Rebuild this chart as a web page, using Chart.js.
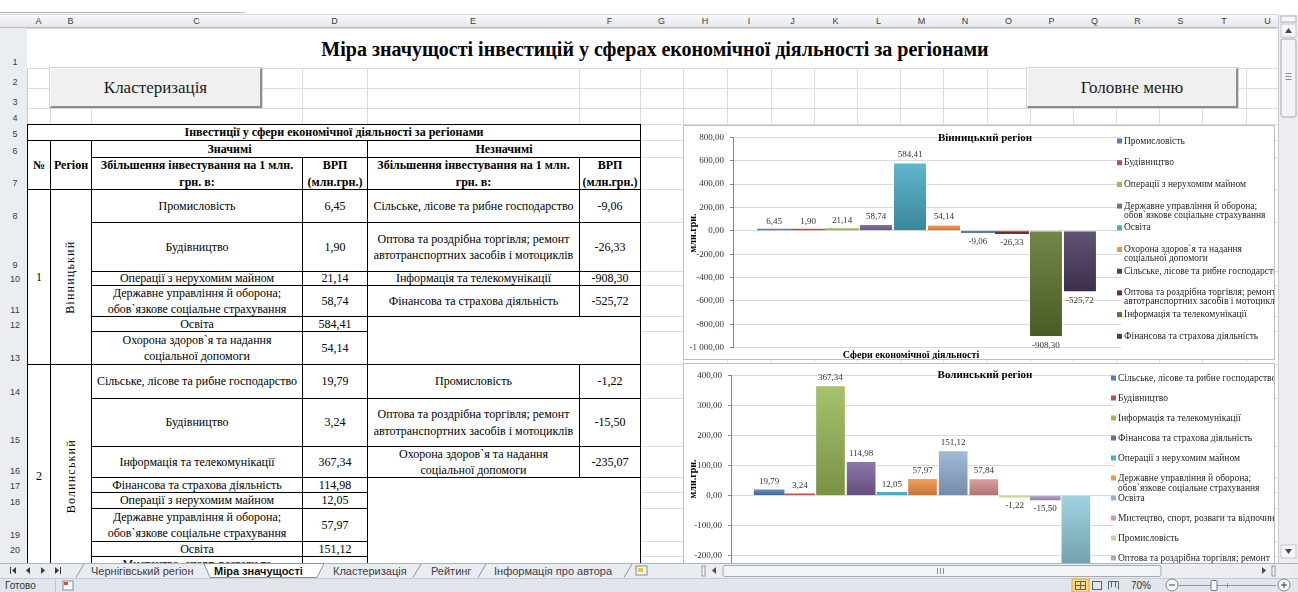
<!DOCTYPE html>
<html lang="uk">
<head>
<meta charset="utf-8">
<title>Міра значущості</title>
<script src="https://cdn.jsdelivr.net/npm/chart.js@4.4.1/dist/chart.umd.min.js"></script>
<style>
  html, body { margin: 0; padding: 0; }
  body { position: relative; width: 1298px; height: 592px; overflow: hidden; background: #fff;
         font-family: "Liberation Serif", "Times New Roman", serif; color: #000; }
  #sheet { position: absolute; left: 0; top: 0; width: 1278px; height: 563px; overflow: hidden; }
  #sheet div { position: absolute; box-sizing: border-box; }
  .gv { width: 1px; background: #dadcdd; }
  .gh { height: 1px; background: #dadcdd; }
  .ch { top: 15px; height: 13px; background: linear-gradient(#f8f9fb, #e4e7ec); border-right: 1px solid #c3c8cf;
        border-bottom: 1px solid #b9bec6; font: 9px "Liberation Sans", Arial, sans-serif; color: #3c3c3c;
        text-align: center; line-height: 12px; }
  .rh { left: 0; width: 28px; background: #eaedf1; border-right: 1px solid #c3c8cf; border-bottom: 1px solid #d3d7dc;
        font: 9px "Liberation Sans", Arial, sans-serif; color: #3c3c3c; padding-left: 3px;
        display: flex; align-items: flex-end; justify-content: center; padding-bottom: 1px; }
  .cell { border: 1px solid #000; background: #fff; display: flex; align-items: center; justify-content: center;
          text-align: center; font-size: 12px; line-height: 16.5px; white-space: pre-line; padding: 0 1px; overflow: hidden; }
  .cell.b { font-weight: bold; }
  .vert { transform: rotate(-90deg); white-space: nowrap; letter-spacing: 1.2px; }
  .btn { background: #f0f0f0; border-top: 1px solid #fdfdfd; border-left: 1px solid #fdfdfd;
         border-right: 2px solid #8c8c8c; border-bottom: 2px solid #8c8c8c; outline: 1px solid #d4d4d4;
         display: flex; align-items: center; justify-content: center; font-size: 17px; color: #1b1b1b; }
  .title { font-weight: bold; font-size: 20px; text-align: center; line-height: 40px; background: #fff; }
  .chartbox { position: absolute; left: 683px; width: 592px; height: 235px; box-sizing: border-box;
              border: 1px solid #bfbfbf; background: #fff; }
  .chartbox canvas { position: absolute; left: 0; top: 0; }
  #clip2 { position: absolute; left: 683px; top: 363px; width: 592px; height: 200px; overflow: hidden; }
  svg { position: absolute; }
  svg text { font-family: "Liberation Sans", Arial, sans-serif; }
</style>
</head>
<body>
<div id="sheet"></div>

<div class="chartbox" style="top:125px"><canvas id="chartVin" width="590" height="233"></canvas></div>
<div id="clip2"><div class="chartbox" style="left:0;top:0"><canvas id="chartVol" width="590" height="233"></canvas></div></div>

<!-- вертикальна смуга прокрутки -->
<svg style="left:1278px;top:15px" width="20" height="548">
  <rect x="0" y="0" width="20" height="548" fill="#eceef1"/>
  <line x1="0.5" y1="0" x2="0.5" y2="548" stroke="#c9cdd3"/>
  <rect x="3" y="1" width="15" height="6" fill="#f6f7f9" stroke="#a9b0b8"/>
  <rect x="3" y="9" width="15" height="13" fill="#f6f7f9" stroke="#c2c7ce"/>
  <path d="M7 18 L10.5 13 L14 18 Z" fill="#4a4a4a"/>
  <rect x="3" y="24" width="15" height="78" rx="2" fill="#f3f4f6" stroke="#a3aab3"/>
  <path d="M7.5 58.5 H13.5 M7.5 61.5 H13.5 M7.5 64.5 H13.5" stroke="#8a9099"/>
  <rect x="3" y="530" width="15" height="13" fill="#f6f7f9" stroke="#c2c7ce"/>
  <path d="M7 534 L10.5 539 L14 534 Z" fill="#4a4a4a"/>
</svg>

<!-- ярлики аркушів і рядок стану -->
<svg style="left:0;top:563px" width="1298" height="29">
  <rect x="0" y="0" width="1298" height="15" fill="#e9ecf0"/>
  <line x1="0" y1="0.5" x2="1298" y2="0.5" stroke="#aeb4bc"/>
  <g fill="#3a3a3a">
    <rect x="10" y="4" width="1" height="7"/><path d="M16 4 L12 7.5 L16 11 Z"/>
    <path d="M30 4 L26 7.5 L30 11 Z"/>
    <path d="M41 4 L45 7.5 L41 11 Z"/>
    <path d="M55 4 L59 7.5 L55 11 Z"/><rect x="60" y="4" width="1" height="7"/>
  </g>
  <polygon points="204,0.5 324,0.5 317,14.5 210,14.5" fill="#ffffff" stroke="#8e959e"/>
  <g stroke="#8e959e" fill="none">
    <line x1="76" y1="14.5" x2="84" y2="1"/>
    <line x1="413" y1="14.5" x2="421" y2="1"/>
    <line x1="478" y1="14.5" x2="486" y2="1"/>
    <line x1="624" y1="14.5" x2="632" y2="1"/>
  </g>
  <g font-size="11" fill="#404040">
    <text x="91" y="11.5">Чернігівський регіон</text>
    <text x="214" y="11.5" font-weight="bold" fill="#111">Міра значущості</text>
    <text x="333" y="11.5">Кластеризація</text>
    <text x="431" y="11.5">Рейтинг</text>
    <text x="494" y="11.5">Інформація про автора</text>
  </g>
  <rect x="636" y="3" width="11" height="9" fill="#f7f7f7" stroke="#8a8a8a"/>
  <rect x="638" y="5" width="5" height="4" fill="#f2c14e"/>
  <!-- горизонтальна смуга прокрутки -->
  <rect x="700" y="1" width="592" height="13" fill="#eceef1"/>
  <rect x="702" y="3" width="3" height="10" fill="#f7f7f7" stroke="#8f969e"/>
  <path d="M716 4 L712 7.5 L716 11 Z" fill="#4a4a4a"/>
  <rect x="723" y="2.5" width="438" height="11" rx="2" fill="#f3f4f6" stroke="#a3aab3"/>
  <path d="M937.5 5 V11 M940.5 5 V11 M943.5 5 V11" stroke="#8a9099"/>
  <path d="M1262 4 L1266 7.5 L1262 11 Z" fill="#4a4a4a"/>
  <rect x="1272" y="3" width="3" height="10" fill="#f7f7f7" stroke="#8f969e"/>
  <!-- рядок стану -->
  <rect x="0" y="15" width="1298" height="14" fill="#e1e6ec"/>
  <line x1="0" y1="15.5" x2="1298" y2="15.5" stroke="#c6ccd3"/>
  <text x="5" y="26" font-size="10" fill="#333">Готово</text>
  <line x1="55.5" y1="16" x2="55.5" y2="29" stroke="#c0c6ce"/>
  <rect x="63" y="18" width="10" height="9" fill="#fff" stroke="#7a8ba0"/>
  <rect x="64" y="19" width="4" height="3" fill="#d94c3a"/>
  <rect x="1072" y="16" width="17" height="13" fill="#fbd78a" stroke="#e4a93b"/>
  <g fill="none" stroke="#5a6470">
    <rect x="1075.5" y="18.5" width="10" height="8"/><path d="M1075.5 22.5 H1085.5 M1080.5 18.5 V26.5"/>
    <rect x="1092.5" y="18.5" width="9" height="8"/>
    <path d="M1108.5 26.5 V18.5 H1118.5 V26.5 M1111.5 18.5 V24.5 M1115.5 18.5 V24.5"/>
  </g>
  <text x="1131" y="26" font-size="10" fill="#333">70%</text>
  <circle cx="1172" cy="22" r="6" fill="#f5f6f8" stroke="#7d8792"/>
  <line x1="1169" y1="22" x2="1175" y2="22" stroke="#3a3a3a"/>
  <line x1="1179" y1="22.5" x2="1276" y2="22.5" stroke="#8d96a1"/>
  <line x1="1227.5" y1="20" x2="1227.5" y2="25" stroke="#8d96a1"/>
  <rect x="1211" y="17.5" width="6" height="10" rx="1" fill="#f8f8f8" stroke="#6f7884"/>
  <circle cx="1284" cy="22" r="6" fill="#f5f6f8" stroke="#7d8792"/>
  <path d="M1281 22 H1287 M1284 19 V25" stroke="#3a3a3a"/>
</svg>

<script>
// ---- Дані: Вінницький регіон ----
const vinSigNames = [
  'Промисловість',
  'Будівництво',
  'Операції з нерухомим майном',
  'Державне управління й оборона;\nобов`язкове соціальне страхування',
  'Освіта',
  'Охорона здоров`я та надання\nсоціальної допомоги'
];
const vinSigValues = [6.45, 1.90, 21.14, 58.74, 584.41, 54.14];
const vinInsNames = [
  'Сільське, лісове та рибне господарство',
  'Оптова та роздрібна торгівля; ремонт\nавтотранспортних засобів і мотоциклів',
  'Інформація та телекомунікації',
  'Фінансова та страхова діяльність'
];
const vinInsValues = [-9.06, -26.33, -908.30, -525.72];

// ---- Дані: Волинський регіон ----
const volSigNames = [
  'Сільське, лісове та рибне господарство',
  'Будівництво',
  'Інформація та телекомунікації',
  'Фінансова та страхова діяльність',
  'Операції з нерухомим майном',
  'Державне управління й оборона;\nобов`язкове соціальне страхування',
  'Освіта',
  'Мистецтво, спорт, розваги та відпочинок'
];
const volSigValues = [19.79, 3.24, 367.34, 114.98, 12.05, 57.97, 151.12, 57.84];
const volInsNames = [
  'Промисловість',
  'Оптова та роздрібна торгівля; ремонт\nавтотранспортних засобів і мотоциклів',
  'Охорона здоров`я та надання\nсоціальної допомоги'
];
const volInsValues = [-1.22, -15.50, -235.07];

// шкали осей Y
const vinAxis = { min: -1000, max: 800, step: 200 };
const volAxis = { min: -300, max: 400, step: 100 };

// кольори рядів (стиль Excel)
const vinColors = ['#4F81BD', '#C0504D', '#9BBB59', '#8064A2', '#4BACC6', '#F79646', '#2C4D75', '#772C2A', '#5F7530', '#4D3B62'];
const volColors = ['#4F81BD', '#C0504D', '#9BBB59', '#8064A2', '#4BACC6', '#F79646', '#95B3D7', '#D99694', '#C3D69B', '#B3A2C7', '#93CDDD'];

// ---- розмітка аркуша ----
const colLetters = 'ABCDEFGHIJKLMNOPQRSTU'.split('');
const colEdges = [27, 50, 91, 302, 367, 579, 640, 683, 727, 771, 814, 857, 900, 943, 987, 1030, 1073, 1116, 1159, 1202, 1246, 1289];
const rowEdges = [28, 68, 88, 108, 124, 140, 157, 189, 222, 271, 285, 316, 331, 364, 398, 446, 477, 492, 508, 541, 556, 587];

// число у форматі "1 000,00"
function fmt(v) {
  const parts = Math.abs(v).toFixed(2).split('.');
  const whole = parts[0].replace(/\B(?=(\d{3})+(?!\d))/g, ' ');
  return (v < 0 ? '-' : '') + whole + ',' + parts[1];
}

const sheet = document.getElementById('sheet');
function box(cls, l, t, w, h, txt) {
  const d = document.createElement('div');
  d.className = cls;
  d.style.left = l + 'px'; d.style.top = t + 'px';
  d.style.width = w + 'px'; d.style.height = h + 'px';
  if (txt !== undefined) d.textContent = txt;
  sheet.appendChild(d);
  return d;
}

// лінії сітки
box('', 0, 12, 245, 1).style.background = '#b8bcc2';
box('', 0, 14, 1278, 1).style.background = '#d4d8dd';
colEdges.forEach(x => box('gv', x, rowEdges[1], 1, 563 - rowEdges[1]));
rowEdges.forEach(y => box('gh', 27, y, 1260, 1));
// заголовки стовпців і рядків
box('ch', 0, 15, 28, 13);
colLetters.forEach((c, i) => box('ch', colEdges[i], 15, colEdges[i + 1] - colEdges[i] + 1, 13, c));
for (let r = 1; r < rowEdges.length; r++) {
  box('rh', 0, rowEdges[r - 1], 28, rowEdges[r] - rowEdges[r - 1] + 1, String(r));
}

// заголовок і кнопки
box('title', 27, 29, 1256, 39, 'Міра значущості інвестицій у сферах економічної діяльності за регіонами');
box('btn', 50, 68, 212, 40, 'Кластеризація');
box('btn', 1027, 68, 211, 40, 'Головне меню');

// ---- таблиця ----
function cell(c0, c1, r0, r1, text, cls) {
  const d = box('cell' + (cls ? ' ' + cls : ''), colEdges[c0], rowEdges[r0 - 1],
    colEdges[c1 + 1] - colEdges[c0] + 1, rowEdges[r1] - rowEdges[r0 - 1] + 1);
  d.textContent = text;
  return d;
}
cell(0, 5, 5, 5, 'Інвестиції у сфери економічної діяльності за регіонами', 'b');
cell(0, 0, 6, 7, '№', 'b');
cell(1, 1, 6, 7, 'Регіон', 'b');
cell(2, 3, 6, 6, 'Значимі', 'b');
cell(4, 5, 6, 6, 'Незначимі', 'b');
cell(2, 2, 7, 7, 'Збільшення інвестування на 1 млн.\nгрн. в:', 'b');
cell(3, 3, 7, 7, 'ВРП\n(млн.грн.)', 'b');
cell(4, 4, 7, 7, 'Збільшення інвестування на 1 млн.\nгрн. в:', 'b');
cell(5, 5, 7, 7, 'ВРП\n(млн.грн.)', 'b');

function region(num, name, startRow, sigNames, sigVals, insNames, insVals) {
  const endRow = startRow + sigNames.length - 1;
  cell(0, 0, startRow, endRow, String(num));
  const b = cell(1, 1, startRow, endRow, '');
  const s = document.createElement('span');
  s.className = 'vert';
  s.textContent = name;
  b.appendChild(s);
  sigNames.forEach((n, i) => {
    cell(2, 2, startRow + i, startRow + i, n);
    cell(3, 3, startRow + i, startRow + i, fmt(sigVals[i]));
  });
  insNames.forEach((n, i) => {
    cell(4, 4, startRow + i, startRow + i, n);
    cell(5, 5, startRow + i, startRow + i, fmt(insVals[i]));
  });
  if (insNames.length < sigNames.length) cell(4, 5, startRow + insNames.length, endRow, '');
}
region(1, 'Вінницький', 8, vinSigNames, vinSigValues, vinInsNames, vinInsValues);
region(2, 'Волинський', 14, volSigNames, volSigValues, volInsNames, volInsValues);

// ---- діаграми ----
function shade(hex, amt) {
  const n = parseInt(hex.slice(1), 16);
  const t = amt < 0 ? 0 : 255, p = Math.abs(amt);
  const ch = [n >> 16, (n >> 8) & 255, n & 255].map(c => Math.round(c + (t - c) * p));
  return 'rgb(' + ch.join(',') + ')';
}

// висота стовпчика в пікселях (для дрібних стовпчиків без обведення)
function barPx(ctx) {
  const y = ctx.chart.scales.y;
  if (ctx.type !== 'data' || !ctx.chart.chartArea || !y) return 0;
  return Math.abs(y.getPixelForValue(ctx.raw) - y.getPixelForValue(0));
}

// градієнтна заливка стовпчика від світлого до темного
function barFill(base) {
  return ctx => {
    const chart = ctx.chart, y = chart.scales.y;
    if (ctx.type !== 'data' || !chart.chartArea || !y) return base;
    const a = y.getPixelForValue(0), b = y.getPixelForValue(ctx.raw);
    if (!isFinite(a) || !isFinite(b) || Math.abs(a - b) < 4) return base;
    const g = chart.ctx.createLinearGradient(0, Math.min(a, b), 0, Math.max(a, b));
    g.addColorStop(0, shade(base, 0.12));
    g.addColorStop(1, shade(base, -0.22));
    return g;
  };
}

// підписи даних, назви, легенда праворуч
const excelDecor = {
  id: 'excelDecor',
  afterDatasetsDraw(chart, args, o) {
    const ctx = chart.ctx;
    ctx.save();
    ctx.fillStyle = '#333';
    ctx.font = '9px "Liberation Serif"';
    ctx.textAlign = 'center';
    chart.data.datasets.forEach((ds, i) => {
      chart.getDatasetMeta(i).data.forEach((bar, j) => {
        const v = ds.data[j];
        if (v >= 0) { ctx.textBaseline = 'bottom'; ctx.fillText(fmt(v), bar.x, bar.y - 3); }
        else { ctx.textBaseline = 'top'; ctx.fillText(fmt(v), bar.x, bar.y + 4); }
      });
    });

    ctx.fillStyle = '#000';
    ctx.textBaseline = 'middle';
    ctx.font = 'bold 11px "Liberation Serif"';
    ctx.fillText(o.title, o.titleX, o.titleY);
    ctx.font = 'bold 10px "Liberation Serif"';
    ctx.fillText(o.xTitle, o.xTitleX, o.xTitleY);
    ctx.save();
    ctx.translate(o.yTitleX, o.yTitleY);
    ctx.rotate(-Math.PI / 2);
    ctx.fillText(o.yTitle, 0, 0);
    ctx.restore();

    ctx.textAlign = 'left';
    ctx.font = '9.5px "Liberation Serif"';
    chart.data.datasets.forEach((ds, i) => {
      const y = o.legendY + i * o.legendStep;
      ctx.fillStyle = o.colors[i];
      ctx.fillRect(o.legendX, y - 2.5, 5, 5);
      ctx.fillStyle = '#262626';
      ds.label.split('\n').forEach((line, k) => ctx.fillText(line, o.legendX + 7, y + k * o.legendLine));
    });
    ctx.restore();
  }
};

function makeChart(id, names, values, colors, axis, lay, decor) {
  const datasets = names.map((n, i) => ({
    label: n,
    data: [values[i]],
    backgroundColor: barFill(colors[i]),
    borderColor: 'rgba(255,255,255,0.5)',
    borderWidth: ctx => (barPx(ctx) < 6 ? 0 : 1),
    minBarLength: 2,
    barPercentage: 1,
    categoryPercentage: lay.catPct
  }));
  return new Chart(document.getElementById(id), {
    type: 'bar',
    data: { labels: [''], datasets },
    options: {
      responsive: false,
      animation: false,
      devicePixelRatio: 1,
      layout: { padding: { top: lay.top, bottom: lay.bottom, left: 0, right: lay.right } },
      scales: {
        x: { display: false },
        y: {
          min: axis.min, max: axis.max,
          afterFit: s => { s.width = lay.axisW; },
          ticks: { stepSize: axis.step, callback: v => fmt(v), color: '#333', padding: 6,
                   font: { family: 'Liberation Serif', size: 9 } },
          grid: { color: '#d9d9d9', tickLength: 3, tickColor: '#868686' },
          border: { color: '#868686' }
        }
      },
      plugins: { legend: { display: false }, tooltip: { enabled: false }, excelDecor: Object.assign({ colors }, decor) }
    },
    plugins: [excelDecor]
  });
}

makeChart('chartVin', vinSigNames.concat(vinInsNames), vinSigValues.concat(vinInsValues), vinColors, vinAxis,
  { top: 8, bottom: 10, right: 153, axisW: 49, catPct: 0.876 },
  { title: 'Вінницький регіон', titleX: 301, titleY: 12,
    xTitle: 'Сфери економічної діяльності', xTitleX: 227, xTitleY: 229,
    yTitle: 'млн.грн.', yTitleX: 9, yTitleY: 107,
    legendX: 433, legendY: 15, legendStep: 21.7, legendLine: 9 });

makeChart('chartVol', volSigNames.concat(volInsNames), volSigValues.concat(volInsValues), volColors, volAxis,
  { top: 7, bottom: 9, right: 160, axisW: 47, catPct: 0.881 },
  { title: 'Волинський регіон', titleX: 301, titleY: 11,
    xTitle: 'Сфери економічної діяльності', xTitleX: 227, xTitleY: 229,
    yTitle: 'млн.грн.', yTitleX: 9, yTitleY: 115,
    legendX: 427, legendY: 14, legendStep: 20, legendLine: 10 });
</script>
</body>
</html>
